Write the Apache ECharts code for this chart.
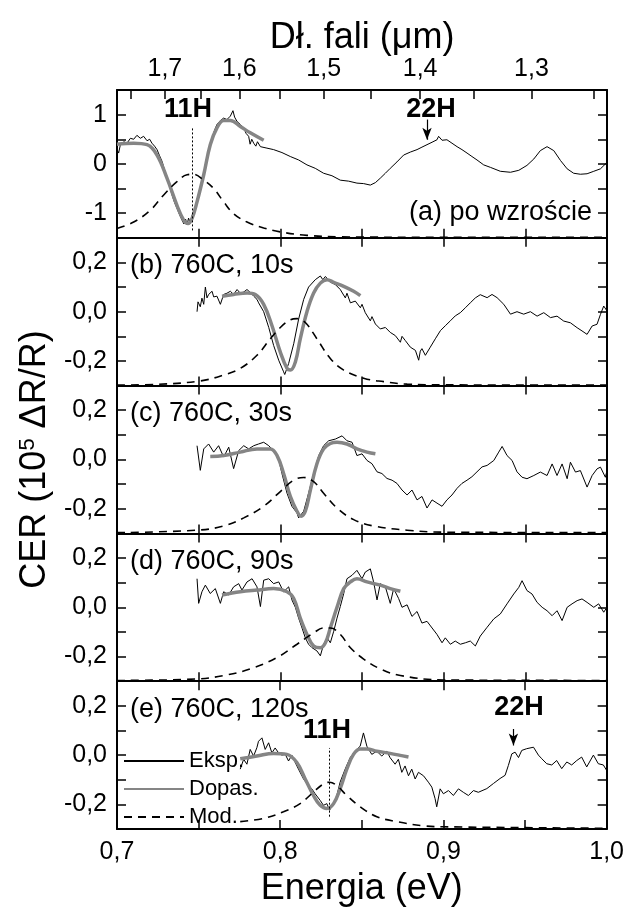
<!DOCTYPE html>
<html>
<head>
<meta charset="utf-8">
<script src="https://cdn.jsdelivr.net/npm/echarts@6/dist/echarts.min.js"></script>
<style>
  html, body { margin: 0; padding: 0; background: #fff; }
  #chart { width: 627px; height: 909px; }
</style>
</head>
<body>
<div id="chart"></div>
<script>
// stała do przeliczenia długości fali (um) na energię (eV)
const HC = 1.23984;

// oś górna: długość fali
const waveLabels = [1.7, 1.6, 1.5, 1.4, 1.3];
const waveTicks = [1.75, 1.7, 1.65, 1.6, 1.55, 1.5, 1.45, 1.4, 1.35, 1.3, 1.25];

const panelTitles = ['(a) po wzroście', '(b) 760C, 10s', '(c) 760C, 30s', '(d) 760C, 90s', '(e) 760C, 120s'];
const yRanges = [[-1.5, 1.5, 0.5], [-0.3, 0.3, 0.1], [-0.3, 0.3, 0.1], [-0.3, 0.3, 0.1], [-0.3, 0.3, 0.1]];

// (a) po wzroście
const expA = [[0.7000,0.30],[0.7010,0.22],[0.7020,0.38],[0.7041,0.45],[0.7061,0.42],[0.7082,0.52],[0.7102,0.50],[0.7122,0.58],[0.7143,0.52],[0.7163,0.56],[0.7184,0.47],[0.7200,0.50],[0.7214,0.42],[0.7230,0.36],[0.7245,0.29],[0.7260,0.17],[0.7276,0.05],[0.7291,-0.12],[0.7306,-0.29],[0.7322,-0.45],[0.7337,-0.63],[0.7352,-0.78],[0.7367,-0.90],[0.7383,-1.03],[0.7398,-1.14],[0.7410,-1.22],[0.7420,-1.12],[0.7429,-1.24],[0.7438,-1.10],[0.7449,-1.20],[0.7459,-1.05],[0.7469,-1.02],[0.7480,-0.90],[0.7490,-0.77],[0.7505,-0.58],[0.7520,-0.36],[0.7536,-0.12],[0.7551,0.12],[0.7567,0.35],[0.7582,0.52],[0.7597,0.68],[0.7612,0.80],[0.7633,0.88],[0.7653,0.93],[0.7673,0.90],[0.7694,0.97],[0.7710,1.08],[0.7720,0.95],[0.7735,0.86],[0.7755,0.80],[0.7776,0.73],[0.7790,0.62],[0.7806,0.56],[0.7815,0.40],[0.7825,0.50],[0.7837,0.42],[0.7850,0.36],[0.7860,0.45],[0.7878,0.35],[0.7918,0.32],[0.7959,0.29],[0.8010,0.23],[0.8061,0.15],[0.8112,0.08],[0.8163,-0.02],[0.8214,-0.09],[0.8265,-0.19],[0.8316,-0.24],[0.8367,-0.33],[0.8418,-0.35],[0.8469,-0.39],[0.8510,-0.40],[0.8551,-0.43],[0.8582,-0.38],[0.8612,-0.29],[0.8643,-0.19],[0.8673,-0.09],[0.8714,0.04],[0.8755,0.18],[0.8796,0.24],[0.8837,0.29],[0.8867,0.34],[0.8898,0.39],[0.8929,0.44],[0.8959,0.49],[0.8969,0.56],[0.8990,0.48],[0.9020,0.49],[0.9051,0.42],[0.9082,0.35],[0.9112,0.29],[0.9143,0.22],[0.9173,0.15],[0.9204,0.08],[0.9245,-0.02],[0.9286,-0.07],[0.9347,-0.15],[0.9409,-0.17],[0.9460,-0.13],[0.9510,-0.03],[0.9552,0.10],[0.9592,0.27],[0.9633,0.35],[0.9643,0.37],[0.9674,0.27],[0.9715,0.07],[0.9756,-0.10],[0.9796,-0.19],[0.9837,-0.21],[0.9878,-0.20],[0.9919,-0.15],[0.9960,-0.10],[1.0000,0.03]];
const fitA = [[0.7000,0.40],[0.7102,0.42],[0.7184,0.39],[0.7245,0.18],[0.7306,-0.29],[0.7367,-0.84],[0.7408,-1.14],[0.7435,-1.21],[0.7459,-1.11],[0.7490,-0.77],[0.7531,-0.22],[0.7571,0.39],[0.7612,0.73],[0.7653,0.88],[0.7694,0.88],[0.7755,0.76],[0.7816,0.63],[0.7898,0.48]];
const modA = [[0.7000,-1.31],[0.7102,-1.18],[0.7204,-0.94],[0.7286,-0.63],[0.7367,-0.36],[0.7429,-0.22],[0.7469,-0.21],[0.7531,-0.33],[0.7592,-0.50],[0.7653,-0.77],[0.7714,-1.01],[0.7796,-1.18],[0.7898,-1.30],[0.8000,-1.38],[0.8163,-1.45],[0.8367,-1.48],[0.9000,-1.49],[1.0000,-1.49]];

// (b) 760C, 10s
const expB = [[0.7490,0.00],[0.7496,0.04],[0.7510,0.02],[0.7520,0.055],[0.7531,0.03],[0.7541,0.10],[0.7551,0.056],[0.7561,0.07],[0.7582,0.083],[0.7592,0.06],[0.7612,0.063],[0.7633,0.03],[0.7653,0.07],[0.7673,0.075],[0.7694,0.083],[0.7714,0.07],[0.7735,0.09],[0.7755,0.075],[0.7776,0.08],[0.7796,0.09],[0.7816,0.078],[0.7837,0.063],[0.7857,0.05],[0.7867,0.036],[0.7898,0.00],[0.7929,-0.064],[0.7959,-0.137],[0.7990,-0.197],[0.8020,-0.244],[0.8027,-0.255],[0.8051,-0.21],[0.8082,-0.13],[0.8112,-0.03],[0.8143,0.05],[0.8173,0.10],[0.8214,0.13],[0.8245,0.145],[0.8260,0.13],[0.8276,0.143],[0.8306,0.12],[0.8337,0.11],[0.8367,0.09],[0.8398,0.056],[0.8408,0.075],[0.8429,0.036],[0.8459,0.043],[0.8490,0.016],[0.8500,0.03],[0.8520,-0.004],[0.8551,-0.037],[0.8561,-0.02],[0.8582,-0.05],[0.8612,-0.07],[0.8643,-0.064],[0.8673,-0.084],[0.8704,-0.097],[0.8735,-0.124],[0.8745,-0.10],[0.8765,-0.117],[0.8796,-0.144],[0.8827,-0.157],[0.8847,-0.197],[0.8857,-0.16],[0.8867,-0.15],[0.8888,-0.177],[0.8918,-0.144],[0.8949,-0.11],[0.8980,-0.077],[0.9010,-0.057],[0.9041,-0.037],[0.9071,-0.017],[0.9102,-0.004],[0.9133,0.016],[0.9163,0.036],[0.9194,0.056],[0.9224,0.069],[0.9266,0.057],[0.9296,0.07],[0.9327,0.057],[0.9368,0.03],[0.9409,-0.01],[0.9449,0.0],[0.9490,-0.01],[0.9531,0.0],[0.9572,-0.018],[0.9613,-0.004],[0.9654,-0.024],[0.9694,-0.018],[0.9735,-0.038],[0.9776,-0.045],[0.9817,-0.065],[0.9847,-0.078],[0.9878,-0.092],[0.9909,-0.058],[0.9939,-0.051],[0.9960,-0.011],[0.9980,0.023],[1.0000,0.003]];
const fitB = [[0.7643,0.063],[0.7714,0.07],[0.7796,0.076],[0.7847,0.07],[0.7898,0.03],[0.7949,-0.057],[0.8000,-0.164],[0.8041,-0.23],[0.8061,-0.237],[0.8092,-0.204],[0.8122,-0.11],[0.8163,0.0],[0.8204,0.076],[0.8245,0.116],[0.8286,0.13],[0.8327,0.119],[0.8388,0.103],[0.8449,0.083],[0.8490,0.065]];
const modB = [[0.7000,-0.298],[0.7245,-0.295],[0.7510,-0.281],[0.7653,-0.257],[0.7755,-0.23],[0.7857,-0.177],[0.7939,-0.11],[0.8000,-0.064],[0.8061,-0.033],[0.8102,-0.028],[0.8153,-0.044],[0.8224,-0.11],[0.8306,-0.19],[0.8388,-0.237],[0.8510,-0.27],[0.8633,-0.284],[0.8776,-0.294],[0.9000,-0.297],[1.0000,-0.298]];

// (c) 760C, 30s
const expC = [[0.7490,0.056],[0.7510,-0.044],[0.7531,0.043],[0.7561,0.063],[0.7592,0.03],[0.7622,0.056],[0.7653,0.01],[0.7684,0.05],[0.7714,-0.037],[0.7745,0.036],[0.7776,0.056],[0.7806,0.043],[0.7837,0.056],[0.7867,0.063],[0.7898,0.07],[0.7929,0.056],[0.7959,0.036],[0.7990,0.0],[0.8010,-0.057],[0.8041,-0.137],[0.8071,-0.19],[0.8102,-0.217],[0.8112,-0.237],[0.8143,-0.21],[0.8173,-0.137],[0.8204,-0.057],[0.8235,0.016],[0.8265,0.056],[0.8296,0.076],[0.8337,0.083],[0.8378,0.096],[0.8408,0.076],[0.8439,0.07],[0.8469,0.016],[0.8500,0.023],[0.8531,-0.004],[0.8561,-0.017],[0.8592,-0.05],[0.8622,-0.057],[0.8653,-0.077],[0.8684,-0.084],[0.8714,-0.097],[0.8745,-0.124],[0.8776,-0.144],[0.8806,-0.124],[0.8837,-0.164],[0.8867,-0.15],[0.8898,-0.197],[0.8929,-0.164],[0.8959,-0.177],[0.8990,-0.19],[0.9020,-0.164],[0.9051,-0.144],[0.9082,-0.117],[0.9112,-0.097],[0.9143,-0.084],[0.9173,-0.07],[0.9204,-0.05],[0.9235,-0.03],[0.9266,-0.024],[0.9307,-0.004],[0.9337,0.03],[0.9358,0.053],[0.9388,0.016],[0.9419,-0.004],[0.9449,-0.05],[0.9480,-0.072],[0.9510,-0.078],[0.9552,-0.065],[0.9592,-0.051],[0.9633,-0.065],[0.9664,-0.018],[0.9694,-0.065],[0.9725,-0.018],[0.9756,-0.078],[0.9776,-0.011],[0.9807,-0.051],[0.9837,-0.045],[0.9878,-0.112],[0.9909,-0.065],[0.9939,-0.038],[0.9960,-0.031],[0.9990,-0.072],[1.0000,-0.045]];
const fitC = [[0.7571,0.012],[0.7653,0.016],[0.7755,0.03],[0.7857,0.043],[0.7939,0.043],[0.7980,0.016],[0.8020,-0.057],[0.8061,-0.15],[0.8102,-0.21],[0.8127,-0.23],[0.8153,-0.21],[0.8184,-0.124],[0.8224,-0.017],[0.8265,0.043],[0.8306,0.065],[0.8347,0.07],[0.8408,0.063],[0.8469,0.043],[0.8531,0.03],[0.8582,0.023]];
const modC = [[0.7000,-0.297],[0.7490,-0.287],[0.7653,-0.27],[0.7776,-0.237],[0.7898,-0.19],[0.8000,-0.13],[0.8082,-0.084],[0.8143,-0.073],[0.8204,-0.09],[0.8265,-0.137],[0.8347,-0.197],[0.8449,-0.244],[0.8571,-0.27],[0.8776,-0.287],[0.9000,-0.295],[1.0000,-0.297]];

// (d) 760C, 90s
const expD = [[0.7490,0.116],[0.7500,0.016],[0.7520,0.063],[0.7541,0.09],[0.7571,0.056],[0.7602,0.076],[0.7633,0.016],[0.7653,0.063],[0.7684,0.05],[0.7714,0.083],[0.7745,0.096],[0.7765,0.07],[0.7796,0.103],[0.7827,0.116],[0.7857,0.083],[0.7878,0.003],[0.7898,0.11],[0.7929,0.116],[0.7959,0.096],[0.7990,0.103],[0.8020,0.063],[0.8051,0.083],[0.8071,0.03],[0.8092,0.0],[0.8112,-0.044],[0.8133,-0.084],[0.8153,-0.124],[0.8173,-0.15],[0.8194,-0.164],[0.8224,-0.177],[0.8245,-0.197],[0.8265,-0.15],[0.8286,-0.124],[0.8306,-0.144],[0.8327,-0.097],[0.8347,-0.044],[0.8367,0.003],[0.8388,0.056],[0.8408,0.116],[0.8439,0.13],[0.8469,0.15],[0.8500,0.116],[0.8520,0.143],[0.8551,0.156],[0.8571,0.103],[0.8592,0.03],[0.8612,0.096],[0.8643,0.083],[0.8673,0.016],[0.8694,0.076],[0.8724,0.036],[0.8745,0.0],[0.8776,0.01],[0.8806,-0.037],[0.8837,-0.017],[0.8867,-0.064],[0.8898,-0.057],[0.8929,-0.084],[0.8959,-0.11],[0.8990,-0.144],[0.9010,-0.124],[0.9041,-0.15],[0.9071,-0.137],[0.9102,-0.15],[0.9133,-0.144],[0.9163,-0.137],[0.9194,-0.157],[0.9224,-0.117],[0.9266,-0.081],[0.9307,-0.047],[0.9347,-0.027],[0.9388,0.014],[0.9429,0.054],[0.9460,0.081],[0.9480,0.108],[0.9510,0.068],[0.9541,0.054],[0.9572,0.02],[0.9603,0.0],[0.9633,-0.014],[0.9664,-0.034],[0.9694,-0.014],[0.9725,-0.054],[0.9756,0.0],[0.9786,0.014],[0.9817,0.027],[0.9847,0.034],[0.9878,0.02],[0.9919,0.0],[0.9949,0.014],[0.9980,-0.02],[1.0000,0.0]];
const fitD = [[0.7643,0.05],[0.7755,0.063],[0.7857,0.07],[0.7959,0.076],[0.8041,0.063],[0.8082,0.036],[0.8122,-0.044],[0.8163,-0.11],[0.8204,-0.157],[0.8245,-0.164],[0.8276,-0.144],[0.8306,-0.084],[0.8347,0.0],[0.8388,0.076],[0.8429,0.103],[0.8469,0.116],[0.8531,0.103],[0.8612,0.09],[0.8673,0.076],[0.8735,0.065]];
const modD = [[0.7000,-0.297],[0.7490,-0.291],[0.7653,-0.277],[0.7816,-0.25],[0.7980,-0.204],[0.8102,-0.15],[0.8204,-0.104],[0.8265,-0.084],[0.8306,-0.084],[0.8367,-0.11],[0.8429,-0.164],[0.8510,-0.21],[0.8612,-0.25],[0.8735,-0.277],[0.9000,-0.295],[1.0000,-0.297]];

// (e) 760C, 120s
const expE = [[0.7755,-0.057],[0.7776,-0.017],[0.7796,-0.037],[0.7816,0.023],[0.7837,-0.004],[0.7857,0.03],[0.7867,0.056],[0.7888,0.07],[0.7908,0.023],[0.7929,0.05],[0.7949,0.009],[0.7969,0.029],[0.7990,0.009],[0.8010,0.0],[0.8031,0.003],[0.8051,-0.024],[0.8071,0.0],[0.8092,-0.03],[0.8112,-0.057],[0.8143,-0.097],[0.8173,-0.124],[0.8194,-0.137],[0.8214,-0.157],[0.8245,-0.184],[0.8265,-0.204],[0.8286,-0.197],[0.8302,-0.224],[0.8327,-0.197],[0.8347,-0.164],[0.8367,-0.11],[0.8398,-0.057],[0.8429,-0.01],[0.8459,0.016],[0.8490,0.036],[0.8510,0.09],[0.8531,0.036],[0.8561,0.003],[0.8592,0.016],[0.8622,-0.004],[0.8653,0.016],[0.8673,-0.01],[0.8704,-0.037],[0.8724,-0.017],[0.8745,-0.07],[0.8765,-0.044],[0.8786,-0.084],[0.8806,-0.057],[0.8827,-0.097],[0.8847,-0.07],[0.8878,-0.084],[0.8908,-0.11],[0.8929,-0.13],[0.8949,-0.177],[0.8959,-0.21],[0.8980,-0.137],[0.9000,-0.157],[0.9031,-0.144],[0.9061,-0.164],[0.9092,-0.137],[0.9122,-0.151],[0.9153,-0.164],[0.9184,-0.144],[0.9214,-0.151],[0.9266,-0.136],[0.9307,-0.115],[0.9347,-0.095],[0.9378,-0.082],[0.9398,-0.042],[0.9419,0.005],[0.9439,0.012],[0.9460,-0.01],[0.9480,0.019],[0.9510,0.026],[0.9552,0.032],[0.9582,0.0],[0.9603,-0.015],[0.9633,-0.035],[0.9664,-0.04],[0.9694,-0.022],[0.9725,-0.055],[0.9756,-0.028],[0.9786,-0.04],[0.9817,-0.022],[0.9847,-0.008],[0.9878,-0.048],[0.9919,0.0],[0.9949,-0.035],[0.9980,-0.04],[1.0000,-0.062]];
const fitE = [[0.7755,-0.015],[0.7857,-0.004],[0.7959,0.007],[0.8041,0.003],[0.8102,-0.03],[0.8153,-0.097],[0.8204,-0.164],[0.8245,-0.204],[0.8286,-0.217],[0.8327,-0.197],[0.8367,-0.137],[0.8408,-0.057],[0.8449,0.003],[0.8490,0.025],[0.8531,0.025],[0.8592,0.016],[0.8673,0.007],[0.8735,-0.001],[0.8786,-0.008]];
const modE = [[0.7755,-0.27],[0.7898,-0.257],[0.8020,-0.23],[0.8122,-0.197],[0.8204,-0.15],[0.8265,-0.117],[0.8302,-0.11],[0.8347,-0.124],[0.8408,-0.164],[0.8490,-0.21],[0.8592,-0.25],[0.8714,-0.27],[0.8878,-0.287],[0.9000,-0.291],[1.0000,-0.297]];

// pozycje przejść 11H (linia kropkowana) i 22H (strzałka): [energia, y od, y do]
const line11A = [0.7463, -1.35, 0.73];
const arrow22A = [0.8898, 0.90, 0.49];
const line11E = [0.8302, -0.25, 0.029];
const arrow22E = [0.9429, 0.106, 0.039];

const panels = [
  [expA, fitA, modA],
  [expB, fitB, modB],
  [expC, fitC, modC],
  [expD, fitD, modD],
  [expE, fitE, modE]
];

const FONT = '"Liberation Sans", Arial, Helvetica, sans-serif';
const TOP = 90, PH = 147.8;

const chart = echarts.init(document.getElementById('chart'));

const grids = [], xAxes = [], yAxes = [], series = [];
const axisLine = { onZero: false, lineStyle: { color: '#000', width: 2 } };
const tick = { inside: true, length: 9, lineStyle: { color: '#000', width: 1.5 } };

function energyLabel(v) {
  const r = Math.round(v * 10);
  if (Math.abs(v * 10 - r) > 1e-6) return '';
  return (r / 10).toFixed(1).replace('.', ',');
}

panels.forEach((p, i) => {
  grids.push({ left: 117, right: 20, top: TOP + i * PH, height: PH });
  // dolna oś energii
  xAxes.push({
    gridIndex: i, type: 'value', min: 0.7, max: 1.0, interval: 0.05,
    axisLine, axisTick: tick, splitLine: { show: false },
    axisLabel: { show: i === 4, formatter: energyLabel, fontSize: 25, color: '#000', margin: 11, fontFamily: FONT },
    name: i === 4 ? 'Energia (eV)' : '', nameLocation: 'middle', nameGap: 42,
    nameTextStyle: { fontSize: 36, color: '#000', fontFamily: FONT }
  });
  if (i === 0) {
    // górna oś długości fali
    xAxes.push({
      gridIndex: 0, type: 'value', position: 'top', min: 0.7, max: 1.0,
      axisLine, splitLine: { show: false },
      axisTick: { inside: true, length: 9, lineStyle: { color: '#000', width: 1.5 },
        customValues: waveTicks.map(w => HC / w) },
      axisLabel: { customValues: waveLabels.map(w => HC / w), fontSize: 25, color: '#000', margin: 8, fontFamily: FONT,
        formatter: v => (HC / v).toFixed(1).replace('.', ',') },
      name: 'Dł. fali (μm)', nameLocation: 'middle', nameGap: 33,
      nameTextStyle: { fontSize: 36, color: '#000', fontFamily: FONT }
    });
  } else {
    xAxes.push({
      gridIndex: i, type: 'value', position: 'top', min: 0.7, max: 1.0, interval: 0.05,
      axisLine, axisTick: tick, axisLabel: { show: false }, splitLine: { show: false }
    });
  }
  const [ymin, ymax, yint] = yRanges[i];
  yAxes.push({
    gridIndex: i, type: 'value', min: ymin, max: ymax, interval: yint,
    axisLine, axisTick: tick, splitLine: { show: false },
    axisLabel: {
      fontSize: 25, color: '#000', margin: 10, fontFamily: FONT,
      formatter: v => {
        if (i === 0) {
          const r = Math.round(v);
          return Math.abs(v - r) < 1e-6 && Math.abs(r) < 1.5 ? String(r) : '';
        }
        const r = Math.round(v * 10);
        if (Math.abs(v * 10 - r) > 1e-6 || r % 2 !== 0) return '';
        return (r / 10).toFixed(1).replace('.', ',');
      }
    },
    name: i === 2 ? 'CER (10{sup|5} ΔR/R)' : '', nameLocation: 'middle', nameRotate: 90, nameGap: 62,
    nameTextStyle: { fontSize: 36, color: '#000', fontFamily: FONT,
      rich: { sup: { fontSize: 22, verticalAlign: 'top', color: '#000', fontFamily: FONT } } }
  });
  yAxes.push({
    gridIndex: i, type: 'value', position: 'right', min: ymin, max: ymax, interval: yint,
    axisLine, axisTick: tick, axisLabel: { show: false }, splitLine: { show: false }
  });

  const xi = i === 0 ? 0 : 2 * i;
  const yi = 2 * i;
  const [exp, fit, mod] = p;
  series.push({
    name: 'Eksp.', type: 'line', xAxisIndex: xi, yAxisIndex: yi, data: exp,
    symbol: 'none', lineStyle: { color: '#000', width: 1 }, itemStyle: { color: '#000' }, z: 2
  });
  series.push({
    name: 'Dopas.', type: 'line', xAxisIndex: xi, yAxisIndex: yi, data: fit, smooth: 0.4,
    symbol: 'none', lineStyle: { color: '#858585', width: 3.5 }, itemStyle: { color: '#858585' }, z: 3
  });
  const marks = [];
  const mk = (m, arrow) => [
    { coord: [m[0], m[1]], symbol: 'none', lineStyle: arrow ? { type: 'solid', width: 1.2 } : undefined },
    { coord: [m[0], m[2]], symbol: arrow ? 'arrow' : 'none', symbolSize: [7, 12] }
  ];
  if (i === 0) marks.push(mk(line11A, false), mk(arrow22A, true));
  if (i === 4) marks.push(mk(line11E, false), mk(arrow22E, true));
  series.push({
    name: 'Mod.', type: 'line', xAxisIndex: xi, yAxisIndex: yi, data: mod, smooth: 0.4,
    symbol: 'none', lineStyle: { color: '#000', width: 1.6, type: [8, 6] }, itemStyle: { color: '#000' }, z: 4,
    markLine: marks.length ? {
      silent: true, animation: false, label: { show: false },
      lineStyle: { color: '#000', width: 1, type: [2, 2] },
      data: marks
    } : undefined
  });
});

const graphic = [];
panelTitles.forEach((t, i) => {
  if (i === 0) {
    graphic.push({ type: 'text', x: 592, y: TOP + 123, style: { text: t, font: '27px ' + FONT, fill: '#000', align: 'right', verticalAlign: 'middle' } });
  } else {
    graphic.push({ type: 'text', x: 130, y: TOP + i * PH + 28, style: { text: t, font: '27px ' + FONT, fill: '#000', align: 'left', verticalAlign: 'middle' } });
  }
});
const bold = 'bold 27px ' + FONT;
graphic.push({ type: 'text', x: 188, y: 110, style: { text: '11H', font: bold, fill: '#000', align: 'center', verticalAlign: 'middle' } });
graphic.push({ type: 'text', x: 431, y: 110, style: { text: '22H', font: bold, fill: '#000', align: 'center', verticalAlign: 'middle' } });
graphic.push({ type: 'text', x: 327, y: 731, style: { text: '11H', font: bold, fill: '#000', align: 'center', verticalAlign: 'middle' } });
graphic.push({ type: 'text', x: 519, y: 708, style: { text: '22H', font: bold, fill: '#000', align: 'center', verticalAlign: 'middle' } });

chart.setOption({
  backgroundColor: '#fff',
  animation: false,
  textStyle: { fontFamily: FONT },
  grid: grids,
  xAxis: xAxes,
  yAxis: yAxes,
  legend: {
    data: ['Eksp.', 'Dopas.', 'Mod.'], orient: 'vertical', left: 118, top: 745,
    itemWidth: 60, itemHeight: 14, itemGap: 6,
    itemStyle: { opacity: 0 },
    textStyle: { fontSize: 22, color: '#000', fontFamily: FONT }
  },
  graphic,
  series
});

window.addEventListener('resize', () => chart.resize());
</script>
</body>
</html>
